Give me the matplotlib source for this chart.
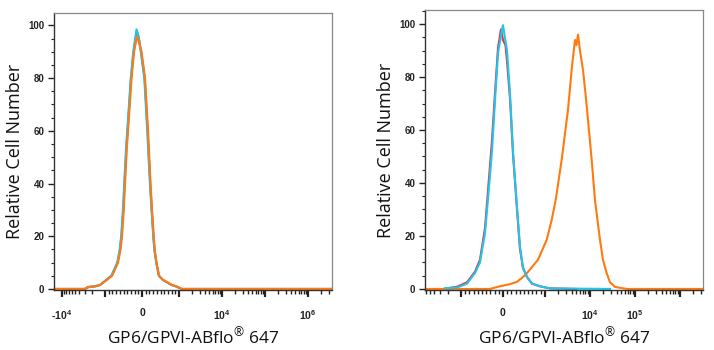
import numpy as np
import matplotlib
matplotlib.use("Agg")
import matplotlib.pyplot as plt
from matplotlib.ticker import FixedLocator, FixedFormatter, MultipleLocator

plt.rcParams['mathtext.fontset'] = 'custom'
plt.rcParams['mathtext.rm'] = 'Open Sans'

# Panel 1 - all three histograms overlap (intensity, relative count)
left_red_x = [-15400, -2924, -2490, -1710, -1310, -965, -822, -662, -595, -555, -508, -472, -426, -391,
              -296, -228, -142, -85, -26, 70, 150, 220, 262, 308, 336, 386, 455, 565, 800, 910, 1150, 3.6e6]
left_red_y = [0, 0, 0.7, 1.0, 1.5, 3.4, 5, 10, 15, 20, 30, 40, 53, 60,
              80, 90, 97.5, 95, 90, 80, 60, 40, 30, 20, 15, 10, 5, 3.4, 1.5, 1, 0, 0]
left_cyan_x = [-15400, -2924, -2490, -1710, -1310, -975, -832, -672, -605, -565, -518, -482, -436, -401,
               -306, -238, -150, -95, -36, 60, 140, 212, 255, 302, 330, 382, 452, 565, 800, 920, 1175, 3.6e6]
left_cyan_y = [0, 0, 0.6, 1.0, 1.5, 3.4, 5, 10, 15, 20, 30, 40, 53, 60,
               80, 90, 98.5, 96, 90, 80, 60, 40, 30, 20, 15, 10, 5, 3.4, 1.5, 1, 0, 0]
left_orange_x = [-15400, -2924, -2490, -1710, -1310, -954, -811, -649, -581, -541, -495, -460, -414, -379,
                 -284, -216, -135, -73, -14, 81, 162, 230, 270, 316, 343, 392, 460, 568, 811, 920, 1175, 3.6e6]
left_orange_y = [0, 0, 0.8, 1.0, 1.5, 3.4, 5, 10, 15, 20, 30, 40, 53, 60,
                 80, 90, 96, 93, 90, 80, 60, 40, 30, 20, 15, 10, 5, 3.4, 1.5, 1, 0, 0]

# Panel 2
right_red_x = [-2000, -1236, -860, -669, -550, -430, -358, -263, -191, -119, -48, 0, 60, 96,
               167, 239, 335, 406, 478, 574, 693, 884, 1301, 5000]
right_red_y = [0.3, 0.8, 2.5, 6.5, 11, 23, 37, 56, 74, 91, 98, 94, 92, 86,
               72, 51, 30, 15, 8, 4.5, 2, 1, 0.2, 0]
right_cyan_x = [-2285, -1236, -860, -669, -550, -430, -358, -263, -191, -119, -24, 0, 96,
                167, 239, 335, 406, 478, 574, 693, 884, 1301, 28000]
right_cyan_y = [0.3, 0.5, 2, 6, 10, 21, 34, 52, 71, 89, 97.7, 99.6, 90,
                74, 52, 31, 16, 8, 4.5, 2, 1, 0.2, 0]
right_orange_x = [-6350, -311, -239, -72, 167, 335, 478, 574, 836, 1099, 1419, 1742, 2366, 3062,
                  3268, 4010, 4677, 5047, 5457, 6039, 7047, 8204, 9100, 10990, 13000, 14790,
                  16820, 19590, 23660, 28050, 36220, 66970, 3.27e6]
right_orange_y = [0, 0, 0.3, 1, 1.8, 2.7, 4.5, 6, 11, 18.5, 26, 33.6, 48.7, 63.8,
                  67.5, 84, 94, 92, 96, 90, 82.6, 72, 63.8, 48.7, 33.6, 26,
                  18.5, 11, 6, 2.5, 0.75, 0, 0]

left_ticks = [-1e4, -1e3, 0, 1e3, 1e4, 1e5, 1e6]
left_labels = ['-$\\mathregular{10^4}$', '', '0', '', '$\\mathregular{10^4}$', '', '$\\mathregular{10^6}$']
right_ticks = [-1e3, 0, 1e3, 1e4, 1e5, 1e6]
right_labels = ['', '0', '', '$\\mathregular{10^4}$', '$\\mathregular{10^5}$', '']

RED = '#e8343a'
CYAN = '#1cc6ee'
ORANGE = '#ff7a10'
xlabel = 'GP6/GPVI-ABflo$\\mathregular{^{®}}$ 647'


def minor_ticks(lo, hi):
    out = [v for v in range(-900, 1000, 100) if v != 0]
    for k in range(3, 7):
        for s in range(2, 10):
            for v in (s * 10 ** k, -s * 10 ** k):
                if lo < v < hi:
                    out.append(v)
    return out


def style(ax, xlim, linscale, ticks, labels, top):
    ax.set_xscale('symlog', linthresh=1000, linscale=linscale)
    ax.set_xlim(*xlim)
    ax.set_ylim(-0.4, top)
    ax.xaxis.set_major_locator(FixedLocator(ticks))
    ax.xaxis.set_major_formatter(FixedFormatter(labels))
    ax.xaxis.set_minor_locator(FixedLocator(minor_ticks(*xlim)))
    ax.yaxis.set_major_locator(MultipleLocator(20))
    ax.yaxis.set_minor_locator(MultipleLocator(5))
    ax.tick_params(axis='x', which='major', length=5, width=1.6, pad=8, labelsize=7.5, colors='#222')
    ax.tick_params(axis='x', which='minor', length=3, width=1.0, colors='#222')
    ax.tick_params(axis='y', which='major', length=4, width=1.0, pad=3, labelsize=7, colors='#222')
    ax.tick_params(axis='y', which='minor', length=2.5, width=0.8, colors='#222')
    for t in ax.get_xticklabels() + ax.get_yticklabels():
        t.set_fontfamily('Liberation Sans')
        t.set_fontweight('bold')
        t.set_color('#222')
    for s in ('top', 'right'):
        ax.spines[s].set_color('#888888')
        ax.spines[s].set_linewidth(0.9)
    for s in ('left', 'bottom'):
        ax.spines[s].set_color('#333333')
        ax.spines[s].set_linewidth(1.0)
    ax.set_xlabel(xlabel, fontsize=12.5, fontfamily='Open Sans', labelpad=3, color='#111')
    ax.set_ylabel('Relative Cell Number', fontsize=13, fontfamily='Open Sans', labelpad=3, color='#111')


fig = plt.figure(figsize=(7.14, 3.5), dpi=100)
ax1 = fig.add_axes([54 / 714, 60 / 350, 278 / 714, 277 / 350])
ax2 = fig.add_axes([425 / 714, 60 / 350, 278 / 714, 280 / 350])

ax1.plot(left_red_x, left_red_y, color=RED, lw=1.5)
ax1.plot(left_cyan_x, left_cyan_y, color=CYAN, lw=1.5)
ax1.plot(left_orange_x, left_orange_y, color=ORANGE, lw=1.5)
style(ax1, (-15400, 3.6e6), 0.774, left_ticks, left_labels, 104.7)

ax2.plot(right_orange_x, right_orange_y, color=ORANGE, lw=1.5)
ax2.plot(right_red_x, right_red_y, color=RED, lw=1.5)
ax2.plot(right_cyan_x, right_cyan_y, color=CYAN, lw=1.5)
style(ax2, (-6350, 3.27e6), 0.837, right_ticks, right_labels, 105.3)

fig.savefig('out.png', dpi=100)
